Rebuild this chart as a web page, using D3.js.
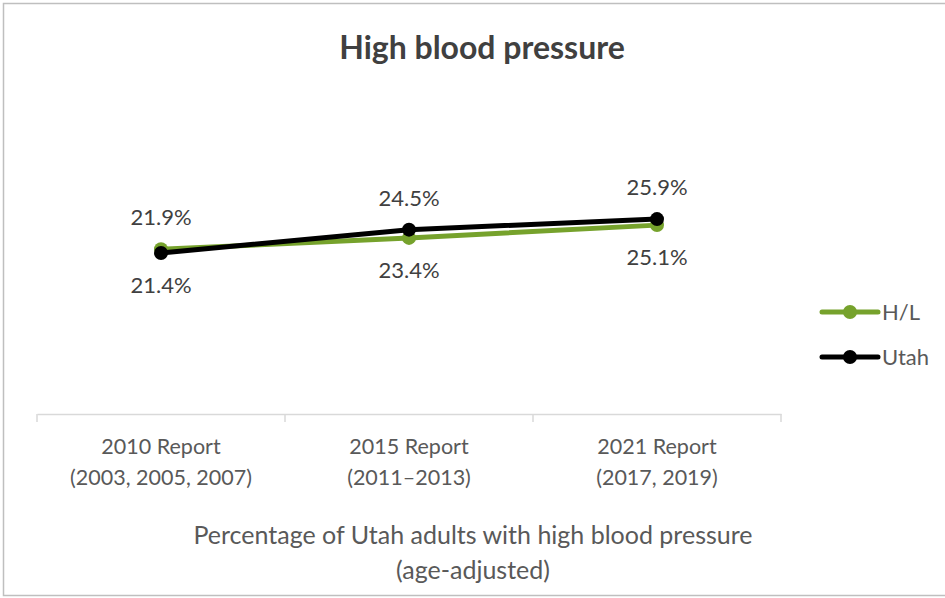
<!DOCTYPE html>
<html>
<head>
<meta charset="UTF-8">
<title>High blood pressure</title>
<script src="https://d3js.org/d3.v7.min.js"></script>
<style>
  body { margin: 0; background: #fff; }
  svg text { font-family: Lato, "Open Sans", sans-serif; }
</style>
</head>
<body>
<div id="chart"></div>
<script>
// data
var reports = ["2010 Report|(2003, 2005, 2007)", "2015 Report|(2011\u20132013)", "2021 Report|(2017, 2019)"];
var hlValues = [21.9, 23.4, 25.1];
var utahValues = [21.4, 24.5, 25.9];
var seriesNames = ["H/L", "Utah"];
var seriesColors = ["#76a22c", "#000000"];

var width = 945, height = 598;

var svg = d3.select("#chart").append("svg")
    .attr("width", width)
    .attr("height", height);

// chart frame
svg.append("rect")
    .attr("x", 3.5).attr("y", 3.5)
    .attr("width", 945).attr("height", 592)
    .attr("fill", "#fff")
    .attr("stroke", "#bfbfbf")
    .attr("stroke-width", 1.5);

// title
svg.append("text")
    .attr("x", 482).attr("y", 59)
    .attr("text-anchor", "middle")
    .attr("font-size", 32)
    .attr("font-weight", "bold")
    .attr("fill", "#404040")
    .text("High blood pressure");

// scales
var x = d3.scaleBand().domain(reports).range([37, 781]);
var y = d3.scaleLinear().domain([0, 40]).range([414, 113]);

// x axis
var xAxis = svg.append("g")
    .attr("transform", "translate(0,414)")
    .call(d3.axisBottom(x).tickSize(0).tickFormat(""));
xAxis.select(".domain").attr("stroke", "#d9d9d9").attr("stroke-width", 1.5);

// separator ticks between categories
var edges = reports.map(function(d) { return x(d); }).concat([x.range()[1]]);
svg.selectAll(".sep")
    .data(edges)
    .enter().append("line")
    .attr("x1", function(d) { return d; })
    .attr("x2", function(d) { return d; })
    .attr("y1", 414).attr("y2", 422)
    .attr("stroke", "#d9d9d9")
    .attr("stroke-width", 1.5);

// category labels (two lines)
var catLabels = svg.selectAll(".cat")
    .data(reports)
    .enter().append("text")
    .attr("text-anchor", "middle")
    .attr("font-size", 21.5)
    .attr("fill", "#595959");
catLabels.each(function(d) {
    var parts = d.split("|");
    var t = d3.select(this);
    parts.forEach(function(p, i) {
        t.append("tspan")
            .attr("x", x(d) + x.bandwidth() / 2)
            .attr("y", 454 + i * 31)
            .text(p);
    });
});

// axis title
svg.append("text")
    .attr("x", 473).attr("y", 544)
    .attr("text-anchor", "middle")
    .attr("font-size", 25)
    .attr("fill", "#595959")
    .text("Percentage of Utah adults with high blood pressure");
svg.append("text")
    .attr("x", 473).attr("y", 579)
    .attr("text-anchor", "middle")
    .attr("font-size", 25)
    .attr("fill", "#595959")
    .text("(age-adjusted)");

// lines
var series = [hlValues, utahValues];
var line = d3.line()
    .x(function(d, i) { return x(reports[i]) + x.bandwidth() / 2; })
    .y(function(d) { return y(d); });

series.forEach(function(vals, s) {
    svg.append("path")
        .datum(vals)
        .attr("d", line)
        .attr("fill", "none")
        .attr("stroke", seriesColors[s])
        .attr("stroke-width", 5)
        .attr("stroke-linejoin", "round");
    svg.selectAll(".dot" + s)
        .data(vals)
        .enter().append("circle")
        .attr("cx", function(d, i) { return x(reports[i]) + x.bandwidth() / 2; })
        .attr("cy", function(d) { return y(d); })
        .attr("r", 7)
        .attr("fill", seriesColors[s]);
});

// data labels: higher value above, lower below
reports.forEach(function(r, i) {
    var a = hlValues[i], b = utahValues[i];
    var hi = Math.max(a, b), lo = Math.min(a, b);
    var cx = x(r) + x.bandwidth() / 2;
    svg.append("text")
        .attr("x", cx).attr("y", y(hi) - 24)
        .attr("text-anchor", "middle")
        .attr("font-size", 22)
        .attr("fill", "#404040")
        .text(hi.toFixed(1) + "%");
    svg.append("text")
        .attr("x", cx).attr("y", y(lo) + 40)
        .attr("text-anchor", "middle")
        .attr("font-size", 22)
        .attr("fill", "#404040")
        .text(lo.toFixed(1) + "%");
});

// legend
var legend = svg.selectAll(".legend")
    .data(seriesNames)
    .enter().append("g")
    .attr("transform", function(d, i) { return "translate(822," + (312 + i * 45) + ")"; });
legend.append("line")
    .attr("x1", 0).attr("x2", 56)
    .attr("stroke", function(d, i) { return seriesColors[i]; })
    .attr("stroke-width", 5)
    .attr("stroke-linecap", "round");
legend.append("circle")
    .attr("cx", 28).attr("r", 7)
    .attr("fill", function(d, i) { return seriesColors[i]; });
legend.append("text")
    .attr("x", 60).attr("y", 8)
    .attr("font-size", 22)
    .attr("fill", "#595959")
    .text(function(d) { return d; });
</script>
</body>
</html>
